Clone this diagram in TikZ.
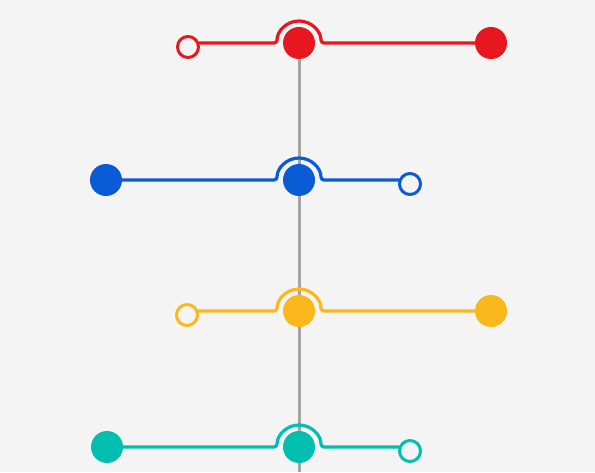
\documentclass[tikz,border=0pt]{standalone}
\usepackage{tikz}
\usetikzlibrary{calc}

\definecolor{bgcol}{HTML}{F4F4F4}
\definecolor{redcol}{HTML}{E8161F}
\definecolor{bluecol}{HTML}{0A5CD6}
\definecolor{yellowcol}{HTML}{FBB81D}
\definecolor{tealcol}{HTML}{00BFAE}
\definecolor{axiscol}{HTML}{A3A3A3}

\begin{document}
\begin{tikzpicture}[x=1pt, y=1pt,
    dot/.style={circle, fill=#1, inner sep=0pt, minimum size=32pt},
    ring/.style={circle, draw=#1, line width=3pt, fill=bgcol, inner sep=0pt, minimum size=21pt},
    link/.style={draw=#1, line width=3.2pt, rounded corners=3pt}]
    \fill[bgcol] (0,0) rectangle (595,472);
    \useasboundingbox (0,0) rectangle (595,472);

    % Axis
    \coordinate (top) at (299,429);
    \coordinate (bottom) at (299,0);
    \draw[axiscol, line width=3pt] (top) -- (bottom);

    % Nodes
    \node (l1) [ring=redcol] at (188,425) {};
    \node (c1) [dot=redcol] at (299,429) {};
    \node (r1) [dot=redcol] at (491,429) {};

    \node (l2) [dot=bluecol] at (106,292) {};
    \node (c2) [dot=bluecol] at (299,292) {};
    \node (r2) [ring=bluecol] at (410,288) {};

    \node (l3) [ring=yellowcol] at (187,157) {};
    \node (c3) [dot=yellowcol] at (299,161) {};
    \node (r3) [dot=yellowcol] at (491,161) {};

    \node (l4) [dot=tealcol] at (107,25) {};
    \node (c4) [dot=tealcol] at (299,25) {};
    \node (r4) [ring=tealcol] at (410,21) {};

    % Paths
    \draw[link=redcol] ([xshift=-1pt]l1.east |- c1.center) -- ([xshift=-22pt]c1.center) arc[start angle=180, end angle=0, radius=22pt] -- (r1.center);
    \draw[link=bluecol] (l2.center) -- ([xshift=-22pt]c2.center) arc[start angle=180, end angle=0, radius=22pt] -- ([xshift=1pt]r2.west |- c2.center);
    \draw[link=yellowcol] ([xshift=-1pt]l3.east |- c3.center) -- ([xshift=-22pt]c3.center) arc[start angle=180, end angle=0, radius=22pt] -- (r3.center);
    \draw[link=tealcol] (l4.center) -- ([xshift=-22pt]c4.center) arc[start angle=180, end angle=0, radius=22pt] -- ([xshift=1pt]r4.west |- c4.center);
\end{tikzpicture}
\end{document}
